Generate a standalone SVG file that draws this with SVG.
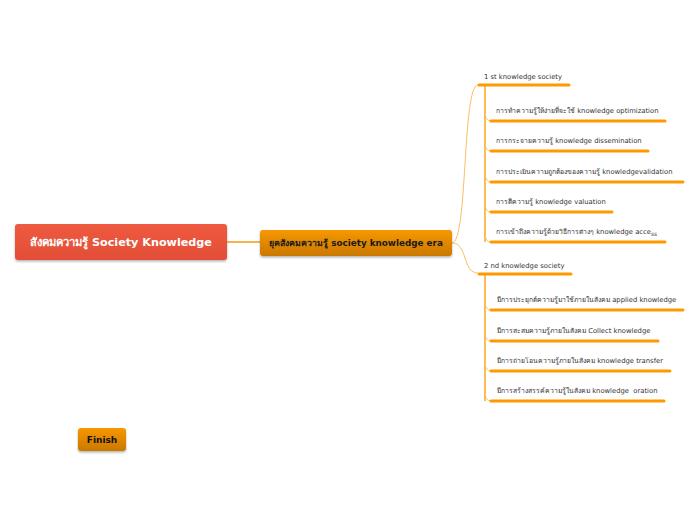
<svg xmlns="http://www.w3.org/2000/svg" width="696" height="520" viewBox="0 0 696 520">
<defs>
<linearGradient id="gRed" x1="0" y1="0" x2="0" y2="1"><stop offset="0" stop-color="#EE5A40"/><stop offset="1" stop-color="#E24E36"/></linearGradient>
<linearGradient id="gOr" x1="0" y1="0" x2="0" y2="1"><stop offset="0" stop-color="#F79800"/><stop offset="1" stop-color="#C97800"/></linearGradient>
<filter id="sh" x="-10%" y="-20%" width="120%" height="150%"><feDropShadow dx="0" dy="1.5" stdDeviation="1.2" flood-color="#000" flood-opacity="0.3"/></filter>
</defs>
<style>
text{font-family:"DejaVu Sans","Noto Sans",sans-serif;}
.t{font-size:6.8px;fill:#333;}
.u{stroke:#FF9900;stroke-width:3;stroke-linecap:round;fill:none;}
.c{stroke:#FBBF63;stroke-width:1;fill:none;}
.v{stroke:#FFA316;stroke-width:1.5;fill:none;}
</style>
<rect width="696" height="520" fill="#fff"/>
<g id="connectors">
<line x1="227" y1="242" x2="260" y2="242" stroke="#F29A16" stroke-width="1.5"/>
<path class="c" d="M452,243 C468,243 462,85 478,85"/>
<path class="c" d="M452,243 C468,243 462,273 478,273"/>
<path class="v" d="M485,86 L485,242"/>
<path class="c" d="M485,112 Q485,121 491,121"/>
<path class="c" d="M485,142 Q485,151 491,151"/>
<path class="c" d="M485,172 Q485,182 491,182"/>
<path class="c" d="M485,203 Q485,212 491,212"/>
<path class="c" d="M485,233 Q485,242 491,242"/>
<path class="v" d="M485,275 L485,401"/>
<path class="c" d="M485,301 Q485,310 491,310"/>
<path class="c" d="M485,332 Q485,341 491,341"/>
<path class="c" d="M485,362 Q485,371 491,371"/>
<path class="c" d="M485,392 Q485,401 491,401"/>
</g>
<g id="root">
<rect x="15" y="224" width="212" height="36" rx="3" fill="url(#gRed)" filter="url(#sh)"/>
<text x="121" y="246" text-anchor="middle" font-size="11.2" font-weight="bold" fill="#fff">สังคมความรู้ Society Knowledge</text>
</g>
<g id="era">
<rect x="260" y="230" width="192" height="26" rx="3" fill="url(#gOr)" filter="url(#sh)"/>
<text x="356" y="246" text-anchor="middle" font-size="8.8" font-weight="bold" fill="#1a1a1a">ยุคสังคมความรู้ society knowledge era</text>
</g>
<g id="first">
<text class="t" x="484" y="79">1 st knowledge society</text>
<line class="u" x1="479" y1="85" x2="569" y2="85"/>
</g>
<g id="n1"><text class="t" x="496" y="113">การทำความรู้ให้ง่ายที่จะใช้ knowledge optimization</text><line class="u" x1="491" y1="121" x2="665" y2="121"/></g>
<g id="n2"><text class="t" x="496" y="143">การกระจายความรู้ knowledge dissemination</text><line class="u" x1="491" y1="151" x2="648" y2="151"/></g>
<g id="n3"><text class="t" x="496" y="174">การประเมินความถูกต้องของความรู้ knowledgevalidation</text><line class="u" x1="491" y1="182" x2="683" y2="182"/></g>
<g id="n4"><text class="t" x="496" y="204">การตีความรู้ knowledge valuation</text><line class="u" x1="491" y1="212" x2="612" y2="212"/></g>
<g id="n5"><text class="t" x="496" y="234">การเข้าถึงความรู้ด้วยวิธีการต่างๆ knowledge acce<tspan font-size="6" dy="1.5">ss</tspan></text><line class="u" x1="491" y1="242" x2="665" y2="242"/></g>
<g id="second">
<text class="t" x="484" y="268">2 nd knowledge society</text>
<line class="u" x1="479" y1="274" x2="571" y2="274"/>
</g>
<g id="m1"><text class="t" x="497" y="302">มีการประยุกต์ความรู้มาใช้ภายในสังคม applied knowledge</text><line class="u" x1="491" y1="310" x2="683" y2="310"/></g>
<g id="m2"><text class="t" x="497" y="333">มีการสะสมความรู้ภายในสังคม Collect knowledge</text><line class="u" x1="491" y1="341" x2="658" y2="341"/></g>
<g id="m3"><text class="t" x="497" y="363">มีการถ่ายโอนความรู้ภายในสังคม knowledge transfer</text><line class="u" x1="491" y1="371" x2="670" y2="371"/></g>
<g id="m4"><text class="t" x="497" y="393" xml:space="preserve">มีการสร้างสรรค์ความรู้ในสังคม knowledge  oration</text><line class="u" x1="491" y1="401" x2="664" y2="401"/></g>
<g id="finish">
<rect x="78" y="428" width="48" height="23" rx="3" fill="url(#gOr)" filter="url(#sh)"/>
<text x="102" y="443" text-anchor="middle" font-size="9" font-weight="bold" fill="#111">Finish</text>
</g>
</svg>
